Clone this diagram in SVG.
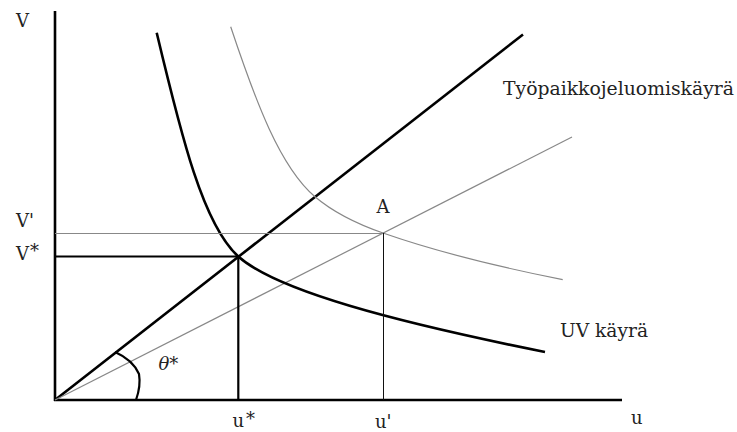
<svg xmlns="http://www.w3.org/2000/svg" width="737" height="432" viewBox="0 0 737 432">
  <style>
    .t { font-family: "DejaVu Serif", "Liberation Serif", serif; font-size: 18px; fill: #222; }
    .it { font-style: italic; }
    .bold { stroke: #000; stroke-width: 2.6; fill: none; }
    .med { stroke: #000; stroke-width: 2.2; fill: none; }
    .thin { stroke: #111; stroke-width: 1; fill: none; }
    .gray { stroke: #888; stroke-width: 1.2; fill: none; }
  </style>
  <rect width="737" height="432" fill="#fff"/>
  <g id="axes">
    <line class="bold" x1="55" y1="11" x2="55" y2="401"/>
    <line class="bold" x1="54" y1="400" x2="622" y2="400"/>
  </g>
  <g id="rays">
    <line class="bold" x1="55" y1="400" x2="523" y2="34.5"/>
    <line class="gray" x1="55" y1="400" x2="572" y2="137"/>
  </g>
  <g id="uv-curve">
    <path class="bold" d="M156.7,32.7 C181.7,137.7 203.3,225 238.3,256.5 C276.3,290.7 395,322 545,352"/>
  </g>
  <g id="job-creation-curve">
    <path class="gray" d="M230.7,26.7 C255.7,101.7 280,166.95 315,196.7 C335,213.7 361,225.3 383,233 C443,254 502.7,267.7 562.7,279.7"/>
  </g>
  <g id="guides">
    <line class="gray" x1="55" y1="233.5" x2="383.5" y2="233.5"/>
    <line class="thin" x1="383.5" y1="233" x2="383.5" y2="400"/>
    <line class="med" x1="55" y1="256.5" x2="238.3" y2="256.5"/>
    <line class="med" x1="238.3" y1="256.5" x2="238.3" y2="400"/>
  </g>
  <g id="angle">
    <path class="med" d="M115,352 Q133,360 139,374 Q141,386 136,400"/>
  </g>
  <g id="labels">
    <text class="t" x="16" y="27">V</text>
    <text class="t" x="16" y="227">V'</text>
    <text class="t" x="16" y="260">V<tspan dx="1" dy="-3">*</tspan></text>
    <text class="t" x="376.5" y="213">A</text>
    <text class="t" x="232.5" y="427">u<tspan dx="2" dy="-2">*</tspan></text>
    <text class="t" x="375" y="427.5">u'</text>
    <text class="t" x="631" y="424">u</text>
    <text class="t it" x="158.5" y="370">θ*</text>
    <text class="t" x="503" y="95" textLength="231" lengthAdjust="spacingAndGlyphs">Työpaikkojeluomiskäyrä</text>
    <text class="t" x="560" y="337" textLength="88" lengthAdjust="spacingAndGlyphs">UV käyrä</text>
  </g>
</svg>
